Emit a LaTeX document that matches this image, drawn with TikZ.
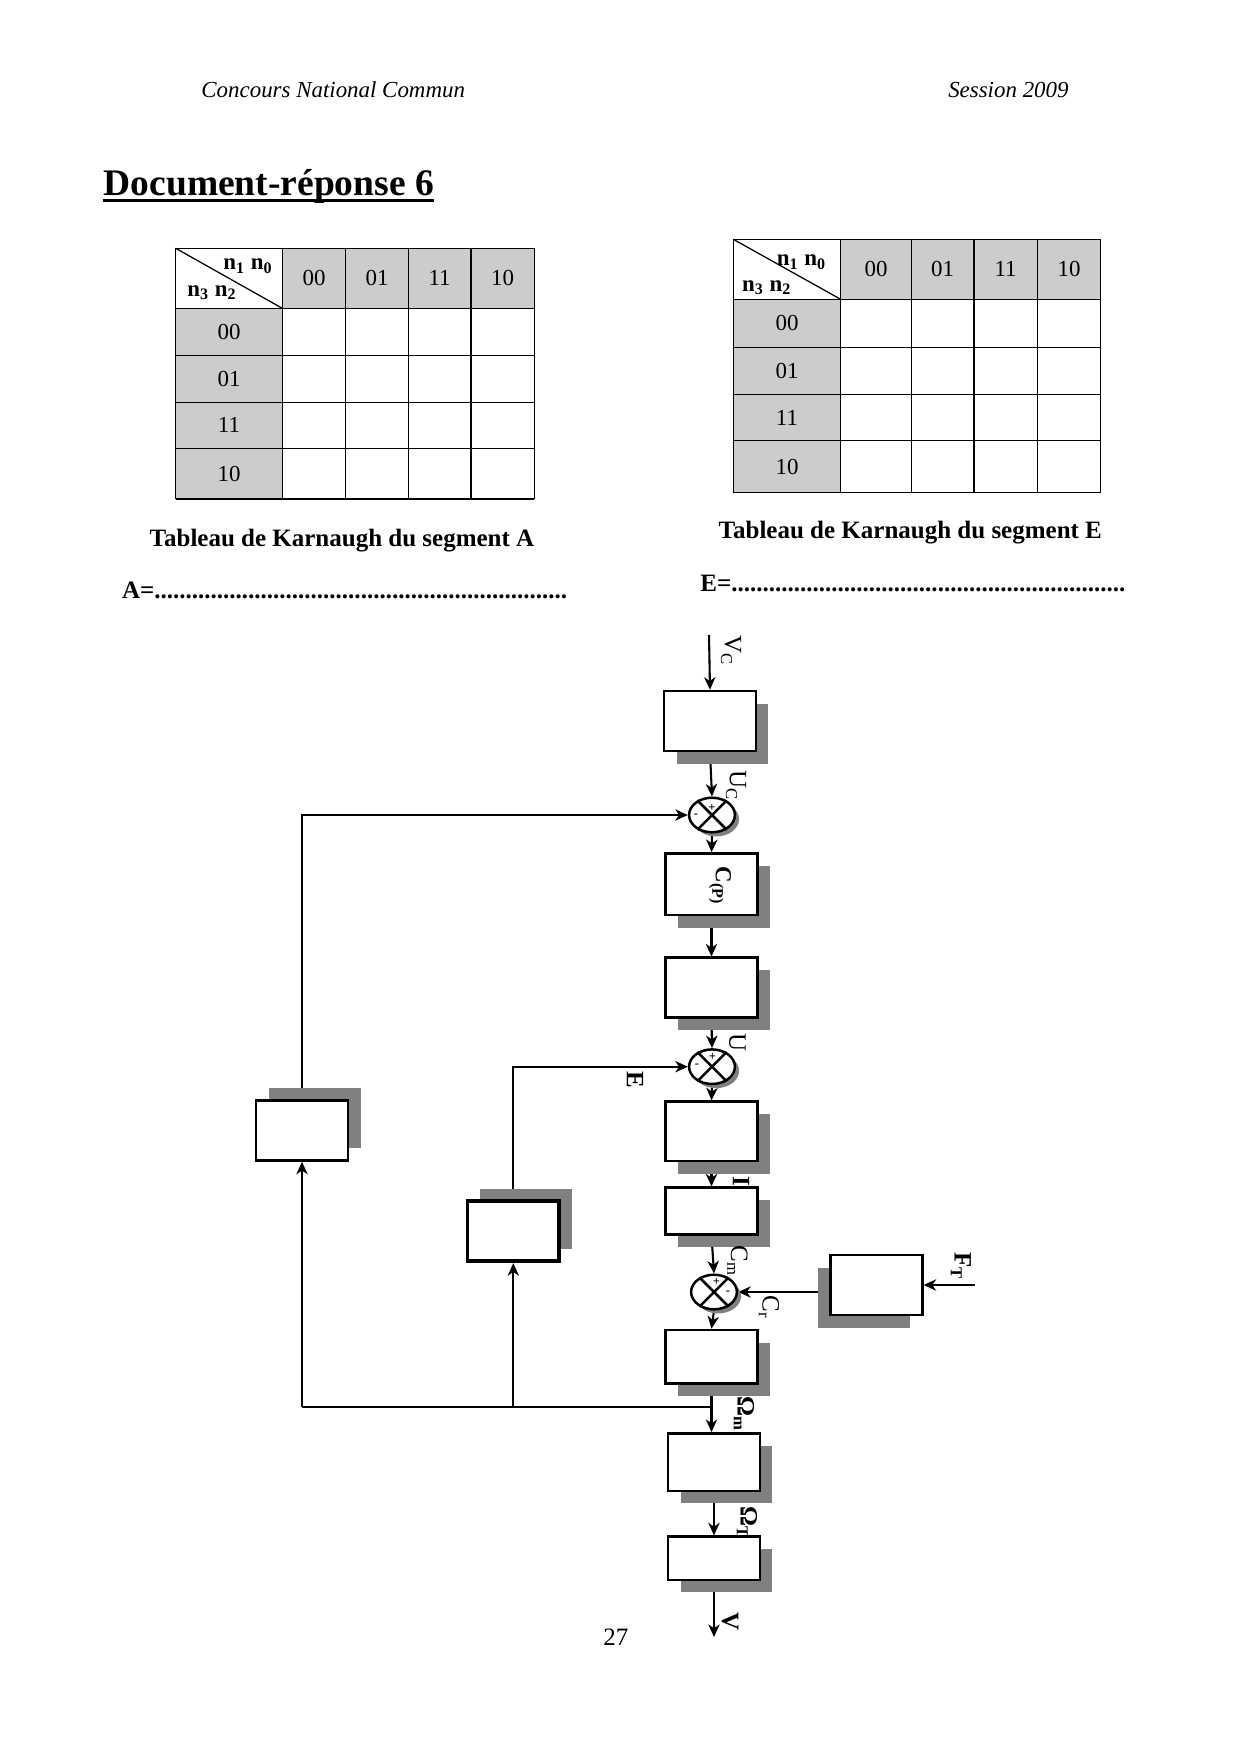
\documentclass[tikz,border=0pt]{standalone}
\usepackage{fontspec}
\setmainfont{Liberation Serif}
\usetikzlibrary{shapes.geometric,arrows.meta,shadows}
\pgfdeclarelayer{bg}
\pgfsetlayers{bg,main}
\definecolor{kgray}{RGB}{204,204,204}
\definecolor{sgray}{RGB}{128,128,128}
\newcommand{\lsub}[1]{\textsubscript{#1}}
\tikzset{
  kline/.style={line width=0.6pt,black},
  knum/.style={inner sep=0pt,font=\fontsize{11}{13}\selectfont},
  kn/.style={inner sep=0pt,font=\fontsize{11}{13}\selectfont\bfseries},
  blk/.style={draw,fill=white,line width=1.2pt,inner sep=0pt,minimum width=44pt},
  shdr/.style={drop shadow={shadow xshift=6pt,shadow yshift=-6pt,fill=sgray,opacity=1}},
  shdl/.style={drop shadow={shadow xshift=-6pt,shadow yshift=-6pt,fill=sgray,opacity=1}},
  shdu/.style={drop shadow={shadow xshift=6.2pt,shadow yshift=6pt,fill=sgray,opacity=1}},
  summ/.style={ellipse,draw,fill=white,line width=1.2pt,inner sep=0pt,minimum width=22pt,minimum height=16.6pt,
    drop shadow={shadow xshift=2pt,shadow yshift=-2pt,fill=sgray,opacity=1}},
  sgn/.style={inner sep=0pt,font=\fontsize{6}{7}\selectfont\bfseries},
  conn/.style={line width=1pt},
  arr/.style={conn,-{Stealth[length=6pt,width=5.4pt,inset=1.8pt]}},
  fb/.style={line width=0.9pt},
  fbarr/.style={fb,-{Stealth[length=6pt,width=5.4pt,inset=1.8pt]}},
  lab/.style={rotate=-90,inner sep=0pt,font=\fontsize{12}{14}\selectfont},
  labb/.style={rotate=-90,inner sep=0pt,font=\fontsize{12}{14}\selectfont\bfseries},
}
\newcommand{\ktab}[3]{%
  \def\cx{{#2}}\def\ry{{#3}}%
  \pgfmathsetmacro{\xa}{\cx[0]}%
  \pgfmathsetmacro{\xb}{\cx[1]}%
  \pgfmathsetmacro{\xf}{\cx[5]}%
  \pgfmathsetmacro{\ya}{\ry[0]}%
  \pgfmathsetmacro{\yb}{\ry[1]}%
  \pgfmathsetmacro{\yf}{\ry[5]}%
  \pgfmathsetmacro{\yh}{0.5*\ya+0.5*\yb}%
  \pgfmathsetmacro{\xh}{0.5*\xa+0.5*\xb}%
  \fill[kgray] (\xb,\ya) rectangle (\xf,\yb);
  \fill[kgray] (\xa,\yb) rectangle (\xb,\yf);
  \foreach \i in {0,...,5}{%
    \pgfmathsetmacro{\xx}{\cx[\i]}%
    \pgfmathsetmacro{\yy}{\ry[\i]}%
    \draw[kline] (\xx,\ya) -- (\xx,\yf);
    \draw[kline] (\xa,\yy) -- (\xf,\yy);
  }
  \draw[kline] (\xa,\ya) -- (\xb,\yb);
  \foreach \lab [count=\i] in {00,01,11,10}{%
    \pgfmathtruncatemacro{\j}{\i+1}%
    \pgfmathsetmacro{\xp}{\cx[\i]}%
    \pgfmathsetmacro{\xq}{\cx[\j]}%
    \pgfmathsetmacro{\yp}{\ry[\i]}%
    \pgfmathsetmacro{\yq}{\ry[\j]}%
    \pgfmathsetmacro{\xl}{0.5*\xp+0.5*\xq}%
    \pgfmathsetmacro{\yl}{0.5*\yp+0.5*\yq}%
    \node[knum] (#1c\i) at (\xl,\yh) {\lab};
    \node[knum] (#1r\i) at (\xh,\yl) {\lab};
  }%
}
\begin{document}
\begin{tikzpicture}[x=0.48pt,y=-0.48pt]
\useasboundingbox (0,0) rectangle (1240,1754);

% header
\node[anchor=base west,inner sep=0pt,font=\fontsize{11}{13}\selectfont\itshape] (hl) at (201,97) {Concours National Commun};
\node[anchor=base east,inner sep=0pt,font=\fontsize{11}{13}\selectfont\itshape] (hr) at (1069,97) {Session 2009};
\node[anchor=base west,inner sep=0pt,font=\fontsize{18}{21}\selectfont\bfseries] (title) at (103.3,195) {Document-réponse 6};
\draw[line width=1.3pt] ([yshift=-2.5pt]title.base west) -- ([yshift=-2.5pt]title.base east);

% Karnaugh tables
\ktab{L}{175.7,282.3,345.7,408.3,471,534.3}{248.3,308.3,355.7,402.3,448.3,499}
\ktab{R}{733.3,840.7,911.3,974,1037.3,1100.7}{239.3,299.3,347.3,394.3,440.7,492.7}
\node[kn] (Ln10) at (248,266) {n\lsub{1} n\lsub{0}};
\node[kn] (Ln32) at (212,292.5) {n\lsub{3} n\lsub{2}};
\node[kn] (Rn10) at (801.5,262) {n\lsub{1} n\lsub{0}};
\node[kn] (Rn32) at (766.7,287.5) {n\lsub{3} n\lsub{2}};

\node[anchor=base west,inner sep=0pt,font=\fontsize{12}{14}\selectfont\bfseries] (capA) at (149.3,546.7) {Tableau de Karnaugh du segment A};
\node[anchor=base west,inner sep=0pt,font=\fontsize{12}{14}\selectfont\bfseries] (capE) at (718.3,538.3) {Tableau de Karnaugh du segment E};
\node[anchor=base west,inner sep=0pt,font=\fontsize{12}{14}\selectfont\bfseries] (eqA) at (121.7,598.3) {\makebox[213.6pt][l]{A=\xleaders\hbox{.}\hfill}};
\node[anchor=base west,inner sep=0pt,font=\fontsize{12}{14}\selectfont\bfseries] (eqE) at (700,591.7) {\makebox[204pt][l]{E=\xleaders\hbox{.}\hfill}};

% block diagram
\node[blk,shdr,minimum height=28.8pt] (b1) at (710,721) {};
\node[summ] (s1) at (712,815) {};
\node[blk,shdr,minimum height=29.6pt] (b2) at (711.5,884.2) {};
\node[blk,shdr,minimum height=28.8pt] (b3) at (711.5,987.7) {};
\node[summ] (s2) at (712,1066.7) {};
\node[blk,shdr,minimum height=28.5pt] (b4) at (711.5,1131.3) {};
\node[blk,shdr,minimum height=22.4pt] (b5) at (711.5,1211) {};
\node[summ] (s3) at (714,1292) {};
\node[blk,shdr,minimum height=25.6pt] (b6) at (711.5,1356.7) {};
\node[blk,shdr,minimum height=27.6pt] (b7) at (714,1462) {};
\node[blk,shdr,minimum height=20.8pt] (b8) at (714,1558.3) {};
\node[blk,shdl,minimum height=28.8pt] (bF) at (876.5,1285) {};
\node[blk,shdu,minimum height=28.8pt] (bA) at (302,1130.5) {};
\node[blk,shdu,minimum height=28.8pt,line width=1.8pt] (bB) at (513.3,1231.3) {};

% crosses and signs in the summing points
\foreach \s in {s1,s2,s3}{
  \draw[line width=1.2pt] (\s.45) -- (\s.225) (\s.135) -- (\s.315);
}
\node[sgn] (s1p) at (712,808) {+};
\node[sgn] (s1m) at (696,816) {-};
\node[sgn] (s2p) at (712.5,1057) {+};
\node[sgn] (s2m) at (697,1066) {-};
\node[sgn] (s3p) at (716.5,1282) {+};
\node[sgn] (s3m) at (728,1292.5) {-};

% free ends
\coordinate (vcin) at (709,635);
\coordinate (vout) at (714,1637);
\coordinate (ftin) at (975,1285);
\coordinate (jy) at (0,1407);
\coordinate (j) at (b6.south |- jy);
\coordinate (jA) at (bA.south |- jy);
\coordinate (jB) at (bB.south |- jy);
\coordinate (tA) at (bA.north |- s1.west);
\coordinate (tB) at (bB.north |- s2.west);

\begin{pgfonlayer}{bg}
  \draw[arr] (vcin) -- (b1.north);
  \draw[arr] (b1.south) -- (s1.north);
  \draw[arr] (s1.south) -- (b2.north);
  \draw[arr] (b2.south) -- (b3.north);
  \draw[arr] (b3.south) -- (s2.north);
  \draw[arr] (s2.south) -- (b4.north);
  \draw[arr] (b4.south) -- (b5.north);
  \draw[arr] (b5.south) -- (s3.north);
  \draw[arr] (s3.south) -- (b6.north);
  \draw[arr] (b6.south) -- (b6.south |- b7.north);
  \draw[arr] (b7.south) -- (b8.north);
  \draw[arr] (b8.south) -- (vout);
  \draw[arr] (ftin) -- (bF.east);
  \draw[arr] (bF.west |- s3.east) -- (s3.east);
  \draw[fb] (j) -- (jA);
  \draw[fbarr] (jA) -- (bA.south);
  \draw[fbarr] (jB) -- (bB.south);
  \draw[fbarr] (bA.north) -- (tA) -- (s1.west);
  \draw[fbarr] (bB.north) -- (tB) -- (s2.west);
\end{pgfonlayer}

% signal labels
\node[lab] (lVc) at (731,651) {V\lsub{C}};
\node[lab] (lUc) at (736,786) {U\lsub{C}};
\node[labb,font=\fontsize{11}{13}\selectfont\bfseries] (lCP) at (720,886) {C\lsub{(P)}};
\node[lab] (lU) at (737.5,1043) {U};
\node[labb] (lE) at (635,1080) {E};
\node[labb] (lI) at (741,1181) {I};
\node[lab] (lCm) at (737.5,1261) {C\lsub{m}};
\node[lab] (lCr) at (769,1307) {C\lsub{r}};
\node[labb] (lFT) at (961,1266) {F\lsub{T}};
\node[labb] (lWm) at (744,1414) {Ω\lsub{m}};
\node[labb] (lWT) at (747,1523) {Ω\lsub{T}};
\node[labb] (lV) at (730,1622) {V};

% page number
\node[anchor=base west,inner sep=0pt,font=\fontsize{12}{14}\selectfont] (pg) at (603,1645) {27};
\end{tikzpicture}
\end{document}
